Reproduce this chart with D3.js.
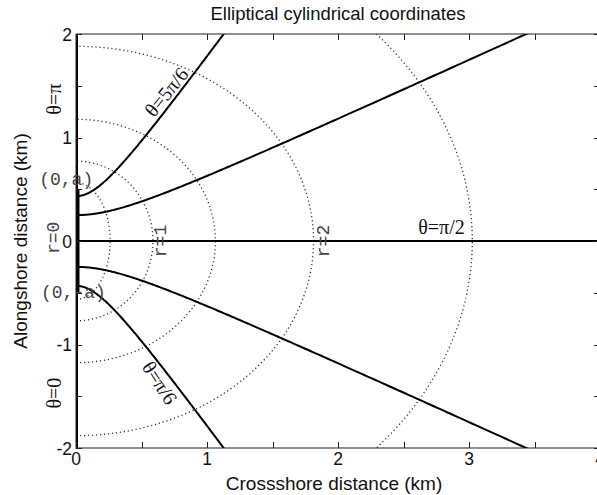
<!DOCTYPE html>
<html>
<head>
<meta charset="utf-8">
<script src="https://cdn.jsdelivr.net/npm/d3@7"></script>
<style>
  body { margin: 0; background: #fff; }
  svg { display: block; }
</style>
</head>
<body>
<svg id="chart" width="597" height="495"></svg>
<script>
// Elliptical cylindrical coordinates: x = a sinh(r) sin(theta), y = -a cosh(r) cos(theta)
const focus = 0.5;                                   // a (km): foci at (0, a) and (0, -a)
const rLevels = [0.5, 1, 1.5, 2, 2.5];               // dotted ellipses (r = const)
const thetaLevels = [Math.PI / 6, Math.PI / 3, Math.PI / 2, 2 * Math.PI / 3, 5 * Math.PI / 6]; // solid hyperbolae
const xDomain = [0, 4];
const yDomain = [-2, 2];
const xTickLabels = [0, 1, 2, 3, 4];
const yTickLabels = [-2, -1, 0, 1, 2];
const minorTicksX = [0.5, 1.5, 2.5, 3.5];
const minorTicksY = [-1.5, -0.5, 0.5, 1.5];

// Text annotations placed in data coordinates (km)
const curveLabels = [
  { text: "θ=5π/6", x: 0.69, y: 1.44, rot: -51, font: "serif" },
  { text: "θ=π/6",  x: 0.64, y: -1.37, rot: 57, font: "serif" },
  { text: "θ=π/2",  x: 2.79, y: 0.02, rot: 0, font: "serif", base: true },
  { text: "θ=π",    x: -0.17, y: 1.37, rot: -90, font: "serif" },
  { text: "θ=0",    x: -0.17, y: -1.47, rot: -90, font: "serif" },
  { text: "r=0",    x: -0.18, y: 0.03, rot: -90, font: "mono" },
  { text: "r=1",    x: 0.64, y: 0.0, rot: -90, font: "mono" },
  { text: "r=2",    x: 1.88, y: 0.0, rot: -90, font: "mono" },
  { text: "(0,a)",  x: -0.075, y: 0.60, rot: 0, font: "mono" },
  { text: "(0,-a)", x: -0.02, y: -0.49, rot: 0, font: "mono" }
];

const svg = d3.select("#chart");
const plot = { left: 76, top: 34, right: 600, bottom: 448 };

const xs = d3.scaleLinear().domain(xDomain).range([plot.left, plot.right]);
const ys = d3.scaleLinear().domain(yDomain).range([plot.bottom, plot.top]);

const toXY = (r, t) => [focus * Math.sinh(r) * Math.sin(t), -focus * Math.cosh(r) * Math.cos(t)];

svg.append("defs").append("clipPath").attr("id", "clip")
  .append("rect")
  .attr("x", plot.left).attr("y", plot.top)
  .attr("width", plot.right - plot.left).attr("height", plot.bottom - plot.top);

const line = d3.line().x(d => xs(d[0])).y(d => ys(d[1]));
const g = svg.append("g").attr("clip-path", "url(#clip)");

// r = const ellipses (half, x >= 0)
const thetaSweep = d3.range(0, 181).map(i => i * Math.PI / 180);
g.selectAll(".ellipse").data(rLevels).join("path")
  .attr("class", "ellipse")
  .attr("d", r => line(thetaSweep.map(t => toXY(r, t))))
  .attr("fill", "none")
  .attr("stroke", "#333")
  .attr("stroke-width", 1.3)
  .attr("stroke-dasharray", "1.2 2.8");

// theta = const hyperbolae
const rSweep = d3.range(0, 301).map(i => i * 0.012);
g.selectAll(".hyper").data(thetaLevels).join("path")
  .attr("class", "hyper")
  .attr("d", t => line(rSweep.map(r => toXY(r, t))))
  .attr("fill", "none")
  .attr("stroke", "#000")
  .attr("stroke-width", 2);

// theta = 0 and theta = pi run along x = 0 beyond the foci; r = 0 joins the foci
g.append("path")
  .attr("d", line([[0, yDomain[0]], [0, -focus]]) + line([[0, focus], [0, yDomain[1]]]))
  .attr("stroke", "#000").attr("stroke-width", 4).attr("fill", "none");
g.append("path")
  .attr("d", line([[0, -focus], [0, focus]]))
  .attr("stroke", "#000").attr("stroke-width", 7).attr("fill", "none");

// Axes box with inward ticks on all sides
const axisColor = "#222";
svg.append("rect")
  .attr("x", plot.left).attr("y", plot.top)
  .attr("width", plot.right - plot.left).attr("height", plot.bottom - plot.top)
  .attr("fill", "none").attr("stroke", axisColor).attr("stroke-width", 1);

const tickLen = 6;
const allX = xTickLabels.concat(minorTicksX);
const allY = yTickLabels.concat(minorTicksY);
const ticks = svg.append("g").attr("stroke", axisColor).attr("stroke-width", 1);
allX.forEach(v => {
  const px = Math.round(xs(v)) + 0.5;
  ticks.append("line").attr("x1", px).attr("x2", px).attr("y1", plot.bottom).attr("y2", plot.bottom - tickLen);
  ticks.append("line").attr("x1", px).attr("x2", px).attr("y1", plot.top).attr("y2", plot.top + tickLen);
});
allY.forEach(v => {
  const py = Math.round(ys(v)) + 0.5;
  ticks.append("line").attr("y1", py).attr("y2", py).attr("x1", plot.left).attr("x2", plot.left + tickLen);
  ticks.append("line").attr("y1", py).attr("y2", py).attr("x1", plot.right).attr("x2", plot.right - tickLen);
});

const sans = "'Liberation Sans', Arial, Helvetica, sans-serif";
const tickFont = 17.5;

svg.append("g").selectAll("text").data(xTickLabels).join("text")
  .attr("x", d => xs(d)).attr("y", plot.bottom + 17)
  .attr("text-anchor", "middle")
  .attr("font-family", sans).attr("font-size", tickFont).attr("fill", "#111")
  .text(d => d);

svg.append("g").selectAll("text").data(yTickLabels).join("text")
  .attr("x", plot.left - 4).attr("y", d => ys(d) + 6.5)
  .attr("text-anchor", "end")
  .attr("font-family", sans).attr("font-size", tickFont).attr("fill", "#111")
  .text(d => d);

// Title and axis titles
svg.append("text")
  .attr("x", (plot.left + plot.right) / 2).attr("y", 20)
  .attr("text-anchor", "middle")
  .attr("font-family", sans).attr("font-size", 18.5).attr("fill", "#111")
  .text("Elliptical cylindrical coordinates");

svg.append("text")
  .attr("x", (plot.left + plot.right) / 2 - 4).attr("y", 489.5)
  .attr("text-anchor", "middle")
  .attr("font-family", sans).attr("font-size", 19).attr("fill", "#111")
  .text("Crossshore distance (km)");

svg.append("text")
  .attr("transform", `translate(27,${(plot.top + plot.bottom) / 2}) rotate(-90)`)
  .attr("text-anchor", "middle")
  .attr("font-family", sans).attr("font-size", 19).attr("fill", "#111")
  .text("Alongshore distance (km)");

// Curve annotations
const fonts = {
  serif: { family: "'Liberation Serif', 'Times New Roman', serif", size: 20, fill: "#111" },
  mono:  { family: "'Liberation Mono', 'Courier New', monospace", size: 18, fill: "#444" }
};
svg.append("g").selectAll("text").data(curveLabels).join("text")
  .attr("transform", d => `translate(${xs(d.x)},${ys(d.y)}) rotate(${d.rot})`)
  .attr("text-anchor", "middle")
  .attr("dy", d => d.base ? "-0.25em" : "0.35em")
  .attr("font-family", d => fonts[d.font].family)
  .attr("font-size", d => fonts[d.font].size)
  .attr("fill", d => fonts[d.font].fill)
  .text(d => d.text);
</script>
</body>
</html>
